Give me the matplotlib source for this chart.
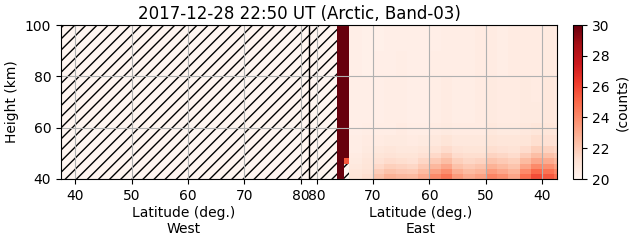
import numpy as np
import matplotlib.pyplot as plt
from matplotlib.patches import Rectangle

plt.rcParams['hatch.color'] = 'black'

# track geometry: west leg goes up to the max latitude, east leg comes back down
pole_lat = 81.4
west_lim = 37.5
east_lim = 37.4

# height bins (km)
height_edges = [40, 42, 44, 46, 48, 50, 53, 57, 62, 70, 80, 90, 100]

# east leg latitude bins (deg.), only where there is data
east_lat_edges = [76.3, 75.2, 74.2, 72, 70, 68, 66, 64, 62, 60, 58, 56, 54,
                  52, 50, 48, 46, 44, 42, 40, 38, 37.4]

nan = np.nan
# counts, one row per height bin (bottom to top), one value per east lat bin
counts = np.array([
    [31, nan, 21.0, 21.3, 22.3, 22.8, 22.6, 22.5, 23.0, 24.0, 24.6, 23.5, 23.0, 23.3, 24.2, 23.8, 23.2, 24.8, 25.8, 25.5, 24.8],
    [31, nan, 20.9, 21.1, 21.9, 22.3, 22.1, 22.0, 22.5, 23.3, 23.9, 22.9, 22.5, 22.7, 23.5, 23.1, 22.7, 24.0, 25.0, 24.7, 24.1],
    [31, nan, 20.8, 21.0, 21.5, 21.8, 21.7, 21.6, 22.0, 22.6, 23.1, 22.3, 22.0, 22.2, 22.8, 22.5, 22.2, 23.2, 24.0, 23.8, 23.3],
    [31, 25.5, 20.7, 20.9, 21.2, 21.4, 21.3, 21.2, 21.6, 22.0, 22.4, 21.8, 21.6, 21.7, 22.2, 22.0, 21.8, 22.5, 23.1, 23.0, 22.6],
    [31, 31, 20.6, 20.8, 21.0, 21.1, 21.0, 21.0, 21.2, 21.5, 21.9, 21.4, 21.3, 21.3, 21.7, 21.6, 21.4, 21.9, 22.4, 22.3, 22.0],
    [31, 31, 20.5, 20.7, 20.8, 20.9, 20.8, 20.8, 20.9, 21.1, 21.4, 21.1, 21.0, 21.0, 21.3, 21.2, 21.1, 21.4, 21.8, 21.7, 21.5],
    [31, 31, 20.5, 20.6, 20.6, 20.7, 20.7, 20.6, 20.7, 20.8, 21.0, 20.8, 20.8, 20.8, 21.0, 20.9, 20.9, 21.0, 21.3, 21.2, 21.1],
    [31, 31, 20.4, 20.5, 20.5, 20.5, 20.6, 20.5, 20.5, 20.6, 20.7, 20.6, 20.6, 20.6, 20.8, 20.7, 20.7, 20.8, 20.9, 20.9, 20.8],
    [31, 31, 20.4, 20.4, 20.4, 20.5, 20.5, 20.4, 20.4, 20.5, 20.6, 20.5, 20.5, 20.6, 20.7, 20.6, 20.6, 20.7, 20.7, 20.8, 20.7],
    [31, 31, 20.4, 20.4, 20.4, 20.5, 20.5, 20.4, 20.4, 20.5, 20.6, 20.5, 20.5, 20.6, 20.7, 20.6, 20.6, 20.7, 20.6, 20.8, 20.7],
    [31, 31, 20.4, 20.3, 20.4, 20.4, 20.5, 20.4, 20.4, 20.5, 20.5, 20.5, 20.5, 20.6, 20.6, 20.5, 20.6, 20.6, 20.6, 20.7, 20.6],
    [31, 31, 20.4, 20.3, 20.3, 20.4, 20.4, 20.4, 20.4, 20.4, 20.5, 20.5, 20.5, 20.6, 20.6, 20.5, 20.6, 20.6, 20.6, 20.7, 20.6],
])

lat_ticks = [40, 50, 60, 70, 80]

# position along the track: west = lat, east = mirrored about the pole
def east_x(lat):
    return 2 * pole_lat - np.asarray(lat, dtype=float)

fig = plt.figure(figsize=(6.31, 2.43), dpi=100)
ax = fig.add_axes([61/631, 64/243, 496/631, 154/243])
cax = fig.add_axes([573/631, 64/243, 9/631, 154/243])

# no-data area shown hatched (sits under the data mesh)
ax.add_patch(Rectangle((0, 0), 1, 1, transform=ax.transAxes, facecolor='#fff5f0',
                       edgecolor='black', hatch='///', lw=0, zorder=0))

mesh = ax.pcolormesh(east_x(east_lat_edges), height_edges,
                     np.ma.masked_invalid(counts), cmap='Reds', vmin=20, vmax=30)
ax.axvline(pole_lat, color='k', lw=1)

ax.set_xlim(west_lim, east_x(east_lim))
ax.set_ylim(40, 100)
ax.set_yticks([40, 60, 80, 100])
ax.set_xticks(list(lat_ticks) + list(east_x(lat_ticks)))
ax.set_xticklabels([str(t) for t in lat_ticks] * 2)
ax.grid(True)
ax.set_ylabel('Height (km)')

fig.text(184/631, 1 - 206/243, 'Latitude (deg.)\nWest', ha='center', va='top')
fig.text(421/631, 1 - 206/243, 'Latitude (deg.)\nEast', ha='center', va='top')
fig.text(299/631, 1 - 19/243, '2017-12-28 22:50 UT (Arctic, Band-03)',
         ha='center', va='baseline', fontsize=12)

cb = fig.colorbar(mesh, cax=cax)
cb.set_ticks([20, 22, 24, 26, 28, 30])
cb.set_label('(counts)')

fig.savefig('out.png', dpi=100)
